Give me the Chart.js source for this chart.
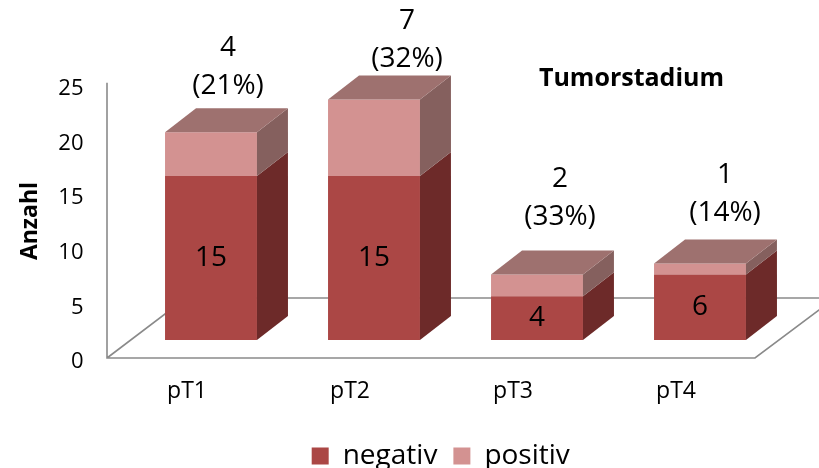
<!DOCTYPE html>
<html><head><meta charset="utf-8">
<script src="https://cdn.jsdelivr.net/npm/chart.js@4"></script>
<style>html,body{margin:0;padding:0;background:#fff}</style>
</head><body>
<canvas id="c" width="819" height="468" style="width:819px;height:468px;display:block"></canvas>
<script>
const categories = ['pT1', 'pT2', 'pT3', 'pT4'];
const negativ = [15, 15, 4, 6];
const positiv = [4, 7, 2, 1];
const yTicks = [0, 5, 10, 15, 20, 25];
const seriesNames = ['negativ', 'positiv'];
const chartTitle = 'Tumorstadium';
const axisTitle = 'Anzahl';

// styling / placement (not data)
const COLORS = {
  negFront: '#AB4745', negSide: '#6D2A29', negTop: '#8A3A38',
  posFront: '#D39291', posSide: '#85605E', posTop: '#9E716F'
};
const DX = 31, DY = -24;               // 3D depth offset of boxes
const labelNudge = [[17, 46], [33, 40], [23, 57], [25, 50]]; // top label placement
const LEGEND_SHIFT = 50;

const FONT = '"Open Sans", Lato, sans-serif';

const depth3d = {
  id: 'depth3d',
  afterLayout(chart) {
    if (chart.legend) {
      chart.legend.left += LEGEND_SHIFT;
      chart.legend.right += LEGEND_SHIFT;
      chart.legend.top += 2;
      chart.legend.bottom += 2;
    }
  },
  beforeDatasetsDraw(chart) {
    const {ctx, chartArea: a, scales: {y}} = chart;
    const y0 = y.getPixelForValue(0);
    const fy = y0 + 18, by = y0 - 42;
    const L = a.left - 22.5, R = a.right - 26.5;
    ctx.save();
    ctx.strokeStyle = '#8a8a8a';
    ctx.lineWidth = 1.6;
    ctx.beginPath();
    ctx.moveTo(L, y.getPixelForValue(yTicks[yTicks.length - 1]) + 16);
    ctx.lineTo(L, fy);
    ctx.lineTo(R, fy);
    ctx.lineTo(R + 80, by);
    ctx.lineTo(L + 79, by);
    ctx.lineTo(L, fy);
    ctx.stroke();
    ctx.restore();
  },
  afterDatasetsDraw(chart) {
    const {ctx} = chart;
    const n = chart.data.datasets.length;
    ctx.save();
    const sides = [COLORS.negSide, COLORS.posSide];
    const tops = [COLORS.negTop, COLORS.posTop];
    for (let i = 0; i < n; i++) {
      const meta = chart.getDatasetMeta(i);
      meta.data.forEach((bar, j) => {
        const p = bar.getProps(['x', 'y', 'base', 'width'], true);
        const l = p.x - p.width / 2, r = p.x + p.width / 2;
        const top = Math.min(p.y, p.base), bot = Math.max(p.y, p.base);
        ctx.fillStyle = sides[i];
        ctx.beginPath();
        ctx.moveTo(r, top); ctx.lineTo(r + DX, top + DY);
        ctx.lineTo(r + DX, bot + DY); ctx.lineTo(r, bot);
        ctx.closePath(); ctx.fill();
        if (i === n - 1) {
          ctx.fillStyle = tops[i];
          ctx.beginPath();
          ctx.moveTo(l, top); ctx.lineTo(l + DX, top + DY);
          ctx.lineTo(r + DX, top + DY); ctx.lineTo(r, top);
          ctx.closePath(); ctx.fill();
        }
      });
    }
    ctx.fillStyle = '#000';
    ctx.textAlign = 'center';
    ctx.textBaseline = 'middle';
    ctx.font = '28px ' + FONT;
    const negMeta = chart.getDatasetMeta(0);
    const posMeta = chart.getDatasetMeta(1);
    negMeta.data.forEach((bar, j) => {
      const p = bar.getProps(['x', 'y', 'base'], true);
      ctx.fillText(String(negativ[j]), p.x, (p.y + p.base) / 2);
    });
    posMeta.data.forEach((bar, j) => {
      const p = bar.getProps(['x', 'y'], true);
      const total = negativ[j] + positiv[j];
      const pct = Math.round(positiv[j] / total * 100);
      const cx = p.x + labelNudge[j][0];
      const cy = p.y - labelNudge[j][1];
      ctx.fillText('(' + pct + '%)', cx, cy);
      ctx.fillText(String(positiv[j]), cx, cy - 38);
    });
    const a = chart.chartArea;
    ctx.font = 'bold 25px ' + FONT;
    ctx.fillText(chartTitle, a.right - 150, a.top + 12);
    ctx.save();
    ctx.translate(30, 221);
    ctx.rotate(-Math.PI / 2);
    ctx.font = 'bold 23px ' + FONT;
    ctx.fillText(axisTitle, 0, 0);
    ctx.restore();
    ctx.restore();
  }
};

new Chart(document.getElementById('c'), {
  type: 'bar',
  data: {
    labels: categories,
    datasets: [
      {label: seriesNames[0], data: negativ, backgroundColor: COLORS.negFront, borderWidth: 0},
      {label: seriesNames[1], data: positiv, backgroundColor: COLORS.posFront, borderWidth: 0}
    ]
  },
  options: {
    responsive: false,
    animation: false,
    devicePixelRatio: 1,
    barPercentage: 0.8,
    categoryPercentage: 0.705,
    layout: {padding: {left: 0, right: 37.5, top: 66.7, bottom: -10}},
    plugins: {
      tooltip: {enabled: false},
      title: {display: false},
      legend: {
        position: 'bottom',
        labels: {
          color: '#000', boxWidth: 17, boxHeight: 17, padding: 16,
          font: {family: FONT, size: 28}
        }
      }
    },
    scales: {
      x: {
        stacked: true,
        grid: {display: false, drawTicks: false},
        border: {display: false},
        ticks: {color: '#000', font: {family: FONT, size: 23}, labelOffset: -24, padding: 38},
        afterFit(scale) {
          const lh = scale.chart.legend ? scale.chart.legend.height : 42;
          scale.height = 468 + 10 - lh - 340;
        }
      },
      y: {
        stacked: true,
        min: 0, max: 25,
        afterBuildTicks(scale) { scale.ticks = yTicks.map(v => ({value: v})); },
        grid: {display: false, drawTicks: false},
        border: {display: false},
        ticks: {color: '#000', font: {family: FONT, size: 22}, labelOffset: 22, padding: 46},
        afterFit(scale) { scale.width = 129.5; }
      }
    }
  },
  plugins: [depth3d]
});
</script>
</body></html>
